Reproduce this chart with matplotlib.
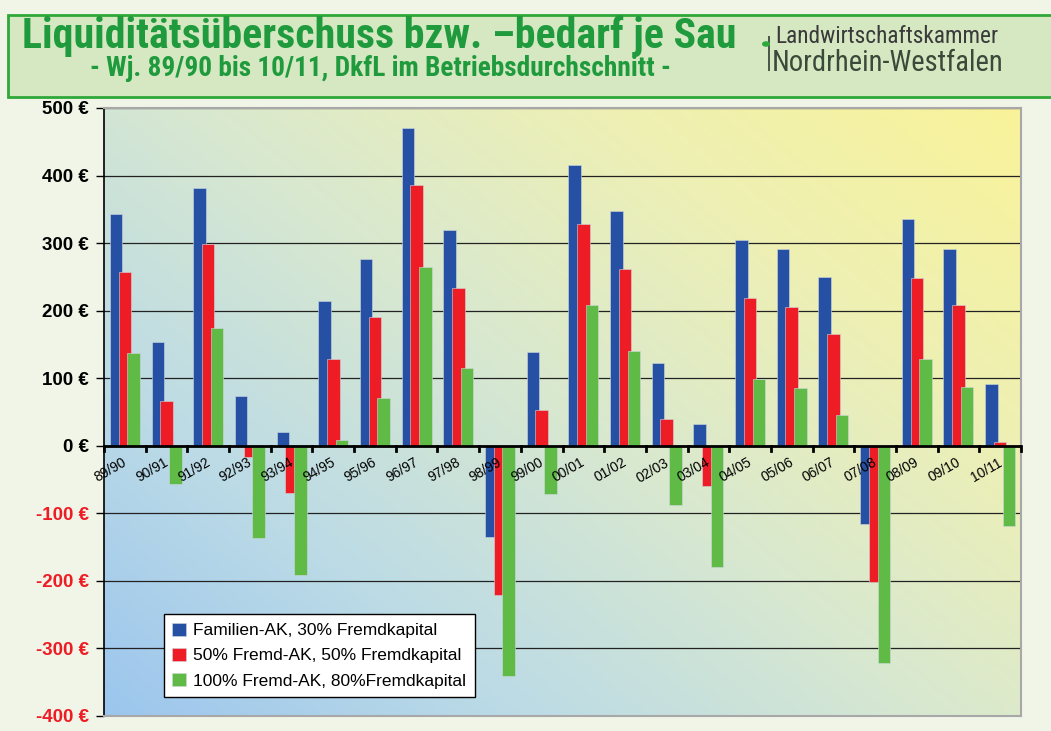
import numpy as np
import matplotlib.pyplot as plt
from matplotlib import font_manager
from matplotlib.colors import LinearSegmentedColormap
from matplotlib.patches import Rectangle
import matplotlib.transforms as mtransforms

jahre = ['89/90', '90/91', '91/92', '92/93', '93/94', '94/95', '95/96', '96/97', '97/98', '98/99', '99/00',
         '00/01', '01/02', '02/03', '03/04', '04/05', '05/06', '06/07', '07/08', '08/09', '09/10', '10/11']
familien_ak = [343, 154, 382, 74, 20, 215, 276, 470, 320, -135, 139, 416, 347, 123, 32, 305, 291, 250, -116, 335, 292, 91]
fremd_50 = [257, 67, 298, -17, -70, 129, 190, 386, 234, -221, 53, 329, 261, 39, -59, 219, 205, 165, -202, 248, 208, 6]
fremd_100 = [137, -57, 175, -137, -191, 9, 70, 264, 115, -341, -72, 209, 141, -88, -179, 99, 85, 46, -321, 129, 87, -119]
serien = ['Familien-AK, 30% Fremdkapital', '50% Fremd-AK, 50% Fremdkapital', '100% Fremd-AK, 80%Fremdkapital']
farben = ['#2550a3', '#ee1c25', '#5fba46']
y_ticks = [500, 400, 300, 200, 100, 0, -100, -200, -300, -400]

# schmale Schriften waehlen, wenn vorhanden
gewichte = {}
for f in font_manager.fontManager.ttflist:
    w = f.weight if isinstance(f.weight, int) else 400
    gewichte.setdefault(f.name, set()).add(w)

def waehle(namen, fett):
    for n in namen:
        if n in gewichte and (not fett or max(gewichte[n]) >= 600):
            return [n, 'Liberation Sans']
    return ['Liberation Sans']

titel_font = waehle(['Liberation Sans Narrow', 'Arial Narrow', 'Roboto Condensed', 'Archivo Narrow',
                     'PT Sans Narrow', 'Open Sans Condensed'], True)
logo_font = waehle(['Roboto Condensed', 'Liberation Sans Narrow', 'Arial Narrow', 'PT Sans Narrow',
                    'Archivo Narrow'], False)

W, H = 1051, 731
fig = plt.figure(figsize=(W / 100, H / 100), dpi=100)
fig.patch.set_facecolor('#f1f5e7')
plt.rcParams['font.family'] = ['Liberation Sans', 'DejaVu Sans']

# Kopfbereich
fig.patches.append(Rectangle((8 / W, 1 - 97 / H), 1.1, 82 / H, transform=fig.transFigure,
                             facecolor='#d5e8c2', edgecolor='#2fa83a', linewidth=2, zorder=0))
kopf = [
    fig.text(22 / W, 1 - 48 / H, 'Liquiditätsüberschuss bzw. –bedarf je Sau', color='#1f9a3c',
             fontsize=30, fontweight='bold', family=titel_font, va='baseline'),
    fig.text(90 / W, 1 - 76 / H, '- Wj. 89/90 bis 10/11, DkfL im Betriebsdurchschnitt -', color='#1f9a3c',
             fontsize=20, fontweight='bold', family=titel_font, va='baseline'),
    fig.text(775 / W, 1 - 43 / H, 'Landwirtschaftskammer', color='#3a3a3a', fontsize=14,
             family=logo_font, va='baseline'),
    fig.text(772 / W, 1 - 71 / H, 'Nordrhein-Westfalen', color='#3a4a3a', fontsize=20,
             family=logo_font, va='baseline'),
]
breiten = [713, 580, 225, 231]
fig.canvas.draw()
r = fig.canvas.get_renderer()
for txt, b in zip(kopf, breiten):
    txt.set_fontsize(txt.get_fontsize() * b / txt.get_window_extent(r).width)

fig.patches.append(Rectangle((768 / W, 1 - 71 / H), 2 / W, 35 / H, transform=fig.transFigure,
                             facecolor='#4a5a4a', edgecolor='none'))
fig.patches.append(plt.Circle((766 / W, 1 - 44 / H), 4 / W, transform=fig.transFigure,
                              facecolor='#2fa83a', edgecolor='none'))

ax = fig.add_axes([104 / W, 15 / H, 917 / W, 608 / H])

# Verlauf im Hintergrund
cmap = LinearSegmentedColormap.from_list('bg', ['#9cc6ee', '#bcdbe6', '#d8e8d0', '#eef0b4', '#f9f39a'])
gx, gy = np.meshgrid(np.linspace(0, 1, 300), np.linspace(0, 1, 300))
ax.imshow((gx * 0.55 + gy * 0.45), cmap=cmap, extent=[0, 1, 0, 1], transform=ax.transAxes,
          aspect='auto', origin='lower', zorder=0)

x = np.arange(len(jahre))
bw = 0.30
off = 0.21
for k, werte in enumerate([familien_ak, fremd_50, fremd_100]):
    ax.bar(x + (k - 1) * off, werte, width=bw, color=farben[k], edgecolor='#d0d8e0', linewidth=0.4,
           label=serien[k], zorder=3 + k)

ax.set_xlim(-0.5, len(jahre) - 0.5)
ax.set_ylim(-400, 500)
ax.set_yticks(y_ticks)
ax.set_yticklabels([f'{v} €' for v in y_ticks], fontsize=13.5, fontweight='bold')
for lab, v in zip(ax.get_yticklabels(), y_ticks):
    lab.set_color('#ee1c25' if v < 0 else 'black')
ax.tick_params(axis='y', length=6, width=1, direction='out', pad=5)
ax.grid(axis='y', color='#222222', linewidth=0.9, zorder=1)
ax.set_axisbelow(True)

ax.set_xticks([])
ax.axhline(0, color='black', linewidth=2, zorder=10)
for b in np.arange(-0.5, len(jahre)):
    ax.plot([b, b], [0, -7], color='black', linewidth=2, zorder=10, clip_on=False)
for i, name in enumerate(jahre):
    t = ax.transData + mtransforms.ScaledTranslation(-2 / 72, -7 / 72, fig.dpi_scale_trans)
    ax.text(i, 0, name, transform=t, rotation=30, rotation_mode='anchor', ha='right', va='top',
            fontsize=10, zorder=11)

ax.spines['left'].set_color('black')
ax.spines['left'].set_linewidth(1.2)
for s in ['top', 'right', 'bottom']:
    ax.spines[s].set_color('#a8a8a8')
    ax.spines[s].set_linewidth(1.5)

leg = ax.legend(loc='lower left', bbox_to_anchor=(51 / 917, 10 / 608), fontsize=12.5, frameon=True,
                fancybox=False, edgecolor='black', facecolor='white', framealpha=1, handlelength=0.8,
                handleheight=0.8, handletextpad=0.4, labelspacing=0.55, borderpad=0.5)
leg.get_frame().set_linewidth(1)
leg.set_zorder(20)

fig.savefig('out.png', dpi=100, facecolor=fig.get_facecolor())
